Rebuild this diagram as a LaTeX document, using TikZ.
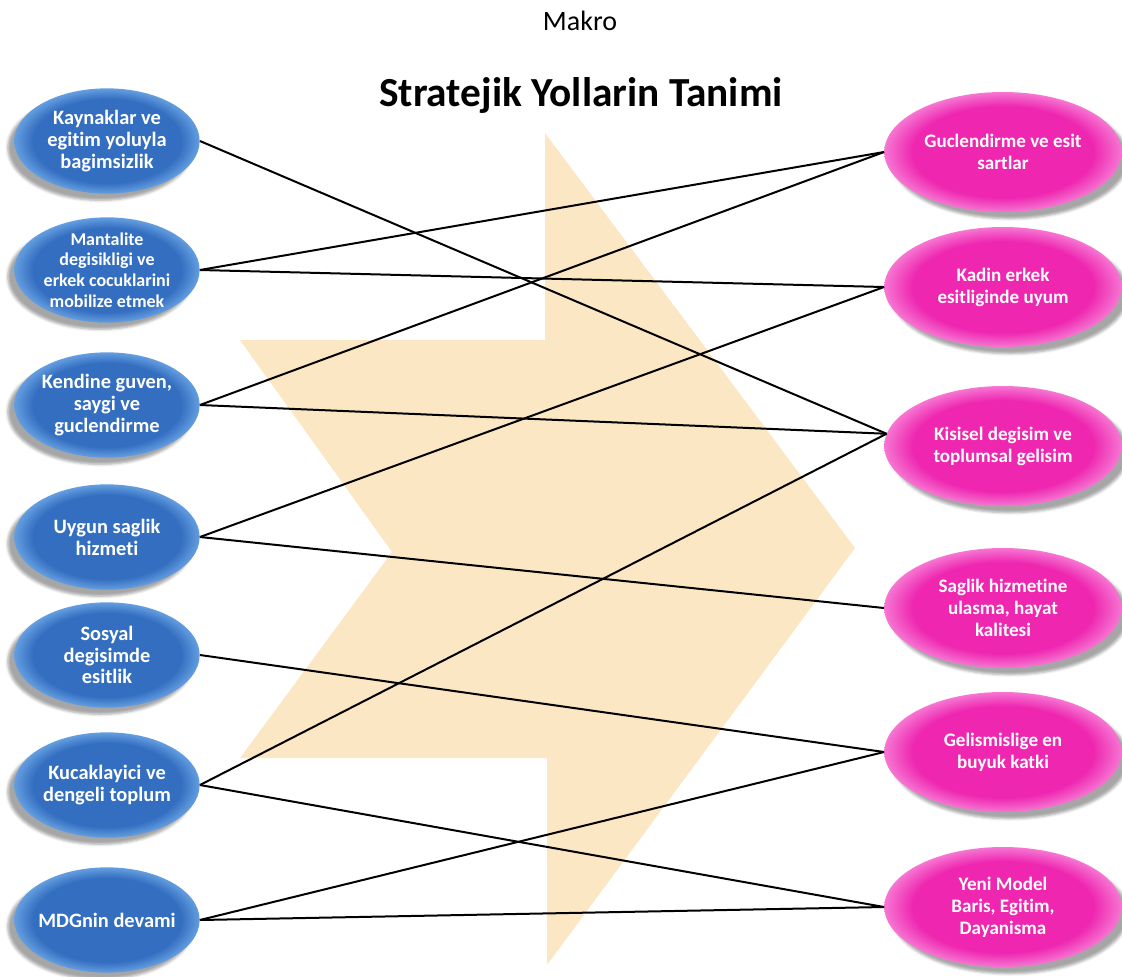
\documentclass[tikz,border=0pt]{standalone}
\usepackage{fontspec}
\setmainfont{Carlito}[Ligatures=NoCommon]
\usetikzlibrary{shapes.geometric,shadows.blur}

\definecolor{arrowfill}{RGB}{252,231,197}
\definecolor{bluein}{RGB}{52,110,192}
\definecolor{blueout}{RGB}{100,158,224}
\definecolor{pinkin}{RGB}{238,38,176}
\definecolor{pinkout}{RGB}{246,118,210}

\pgfdeclareradialshading{blueegg}{\pgfpoint{0bp}{0bp}}{color(0bp)=(bluein); color(20bp)=(bluein); color(25bp)=(blueout); color(50bp)=(blueout)}
\pgfdeclareradialshading{pinkegg}{\pgfpoint{0bp}{0bp}}{color(0bp)=(pinkin); color(19bp)=(pinkin); color(25bp)=(pinkout); color(50bp)=(pinkout)}

\begin{document}
\begin{tikzpicture}[x=0.75pt, y=-0.75pt,
    lnode/.style={ellipse, minimum width=139pt, minimum height=79pt, inner sep=0pt, shade, shading=blueegg,
        blur shadow={shadow xshift=-5pt, shadow yshift=-5pt, shadow opacity=35}},
    rnode/.style={ellipse, minimum width=178pt, minimum height=90pt, inner sep=0pt, shade, shading=pinkegg,
        blur shadow={shadow xshift=5pt, shadow yshift=-5pt, shadow opacity=35}},
    etext/.style 2 args={text=white, font=\fontsize{#1}{#2}\selectfont\bfseries, align=center},
    link/.style={line width=1.5pt},
]

\useasboundingbox (0,0) rectangle (1122,976);

% big arrow behind everything
\fill[arrowfill] (545,133) -- (855,548) -- (547,965) -- (547,758) -- (240,758)
 -- (392,552) -- (240,340) -- (545,340) -- cycle;

% headings
\node (makro) at (580,21) {\fontsize{21}{25}\selectfont Makro};
\node (title) at (581,95) {\fontsize{31}{37}\selectfont\bfseries Stratejik Yollarin Tanimi};

% left ellipses
\foreach \i/\y/\s/\b/\t in {1/141/15.3/16.4/{Kaynaklar ve\\egitim yoluyla\\bagimsizlik},
    2/270/13.5/15.4/{Mantalite\\degisikligi ve\\erkek cocuklarini\\mobilize etmek},
    3/405/15.3/16.4/{Kendine guven,\\saygi ve\\guclendirme},
    4/537/15.3/16.4/{Uygun saglik\\hizmeti},
    5/655/15.3/16.4/{Sosyal\\degisimde\\esitlik},
    6/785/15.3/16.4/{Kucaklayici ve\\dengeli toplum},
    7/920/15.3/16.4/{MDGnin devami}}{
\node[lnode] (L\i) at (107,\y) {};
\node[etext={\s}{\b}] (L\i t) at (L\i) {\t};
}

% right ellipses
\foreach \i/\y/\t in {1/152/{Guclendirme ve esit\\sartlar},
    2/287/{Kadin erkek\\esitliginde uyum},
    3/446/{Kisisel degisim ve\\toplumsal gelisim},
    4/608/{Saglik hizmetine\\ulasma, hayat\\kalitesi},
    5/752/{Gelismislige en\\buyuk katki},
    6/907/{Yeni Model\\Baris, Egitim,\\Dayanisma}}{
\node[rnode] (R\i) at (1003,\y) {};
\node[etext={14.3}{16.5}] (R\i t) at (R\i) {\t};
}

% links
\foreach \a/\b/\p in {1/3/174, 2/1/180, 2/2/180, 3/1/180, 3/3/174, 4/2/180,
    4/4/180, 5/5/180, 6/3/174, 6/6/180, 7/5/180, 7/6/180}
  \draw[link] (L\a.east) -- (R\b.\p);

\end{tikzpicture}
\end{document}
